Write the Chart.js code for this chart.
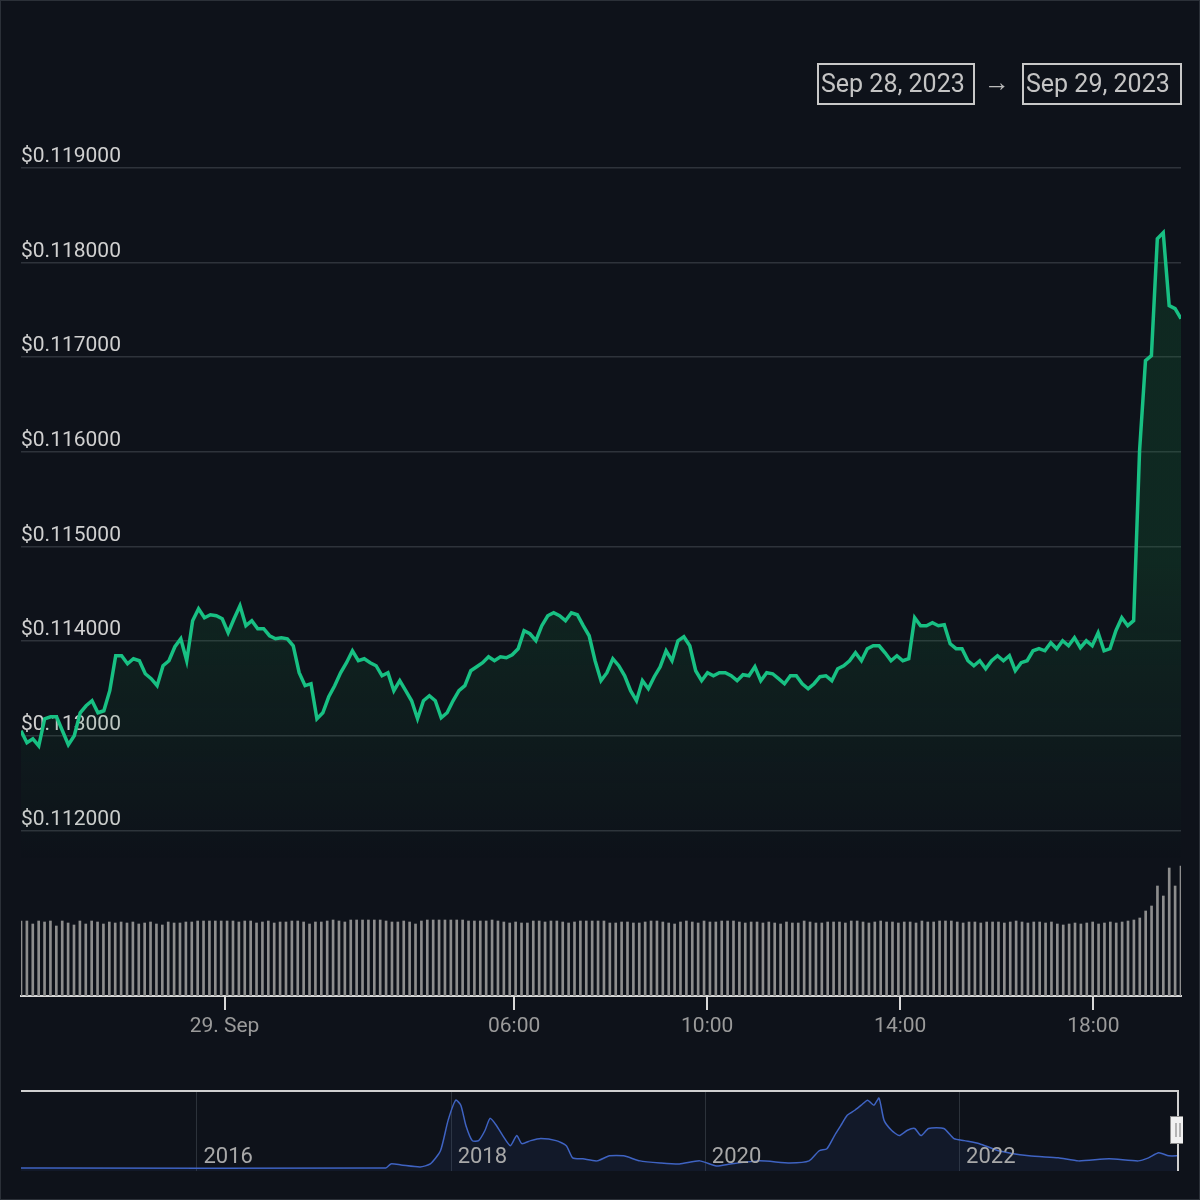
<!DOCTYPE html>
<html><head><meta charset="utf-8">
<script src="https://cdn.jsdelivr.net/npm/chart.js@4"></script>
<style>
html,body{margin:0;padding:0;background:#0e121a;}
#wrap{position:relative;width:1198px;height:1198px;border:1px solid #2b3038;background:#0e121a;font-family:Roboto,sans-serif;}
#main{position:absolute;left:0;top:0;}
#nav{position:absolute;left:20px;top:1088px;}
.box{position:absolute;top:62px;height:38px;border:2px solid #c8c8c8;color:#c4c4c4;font-size:25px;line-height:38px;padding:0 2px;box-sizing:content-box;}
#arrow{position:absolute;left:983px;top:66px;color:#bbb;font-size:26px;}
</style></head>
<body><div id="wrap">
<canvas id="main" width="1198" height="1198"></canvas>
<canvas id="nav" width="1162" height="86"></canvas>
<div class="box" style="left:816px;width:150px;">Sep 28, 2023</div>
<div id="arrow">→</div>
<div class="box" style="left:1021px;width:152px;">Sep 29, 2023</div>
</div>
<script>
// Price in thousandths of a dollar, Sep 28 ~19:47 to Sep 29 ~19:49 (regular steps)
const priceStartMin = -253, priceEndMin = 1189;
const prices = [113.053,112.926,112.968,112.894,113.180,113.201,113.201,113.053,112.905,113.000,113.243,113.317,113.370,113.243,113.264,113.476,113.846,113.846,113.761,113.814,113.793,113.655,113.603,113.529,113.740,113.793,113.941,114.025,113.793,114.216,114.342,114.247,114.279,114.268,114.237,114.089,114.237,114.374,114.163,114.216,114.131,114.131,114.057,114.025,114.036,114.025,113.951,113.666,113.529,113.550,113.180,113.243,113.412,113.529,113.666,113.772,113.898,113.793,113.814,113.772,113.740,113.634,113.666,113.476,113.582,113.476,113.370,113.180,113.370,113.423,113.370,113.190,113.243,113.370,113.476,113.529,113.687,113.729,113.772,113.835,113.793,113.835,113.824,113.856,113.920,114.110,114.078,114.004,114.163,114.268,114.300,114.268,114.216,114.300,114.279,114.163,114.057,113.793,113.582,113.666,113.814,113.740,113.634,113.476,113.370,113.582,113.497,113.624,113.729,113.898,113.793,114.004,114.046,113.951,113.687,113.582,113.666,113.634,113.666,113.666,113.634,113.582,113.645,113.634,113.729,113.582,113.666,113.655,113.603,113.550,113.634,113.634,113.550,113.497,113.550,113.624,113.634,113.582,113.708,113.740,113.793,113.877,113.793,113.920,113.951,113.951,113.877,113.793,113.846,113.793,113.814,114.247,114.163,114.163,114.194,114.163,114.173,113.972,113.920,113.920,113.793,113.740,113.793,113.708,113.793,113.846,113.793,113.846,113.687,113.772,113.793,113.898,113.920,113.898,113.983,113.920,114.004,113.951,114.036,113.930,114.004,113.951,114.089,113.898,113.920,114.110,114.247,114.163,114.216,116.012,116.964,117.017,118.253,118.317,117.545,117.513,117.407];
const volumes = [75,75,72,75,74,75,70,75,73,71,75,72,75,74,72,74,73,74,73,74,72,73,74,72,71,74,73,73,74,74,75,75,75,75,75,75,75,74,75,75,73,74,75,73,74,74,75,75,74,72,74,74,75,76,75,74,76,76,76,76,76,76,75,74,74,75,74,72,75,76,76,76,76,76,76,76,75,75,75,75,76,75,74,73,74,73,73,75,75,74,75,75,74,73,74,75,75,75,75,75,73,73,74,74,73,73,74,75,75,74,73,72,74,75,74,73,75,74,74,75,75,75,74,73,74,74,73,74,73,72,74,73,73,75,74,73,73,74,74,74,73,75,75,74,73,74,75,74,74,73,74,74,73,75,74,74,75,75,75,74,73,74,74,73,74,74,74,73,74,75,74,73,74,74,73,74,72,71,72,73,72,73,74,72,73,74,73,74,75,76,78,85,90,110,100,128,110,130];
const xTickMinutes = [0,360,600,840,1080];
const xTickLabels = {0:'29. Sep',360:'06:00',600:'10:00',840:'14:00',1080:'18:00'};
const yTicks = [112,113,114,115,116,117,118,119];
// navigator (all-time)
const navYears = [2014.62,2014.78,2017.49,2017.53,2017.61,2017.76,2017.84,2017.92,2017.98,2018.04,2018.08,2018.12,2018.17,2018.22,2018.27,2018.31,2018.36,2018.41,2018.47,2018.52,2018.56,2018.63,2018.71,2018.83,2018.91,2018.96,2019.04,2019.15,2019.25,2019.36,2019.49,2019.65,2019.80,2019.96,2020.09,2020.20,2020.43,2020.67,2020.82,2020.90,2020.96,2021.02,2021.07,2021.12,2021.18,2021.23,2021.28,2021.33,2021.37,2021.41,2021.47,2021.53,2021.59,2021.65,2021.70,2021.76,2021.88,2021.96,2022.04,2022.16,2022.31,2022.55,2022.78,2022.94,2023.18,2023.41,2023.49,2023.57,2023.65,2023.73];
const navValues = [3,3,3,7,6,4,7,20,50,70,65,45,30,30,40,52,45,35,25,35,27,30,32,30,25,13,12,10,15,15,10,8,7,10,5,7,10,8,10,20,22,35,45,55,60,65,70,65,72,50,40,35,40,42,35,42,42,32,30,27,20,15,13,10,12,10,13,18,15,15];
const navYearTicks = [2016,2018,2020,2022];

const pStep = (priceEndMin-priceStartMin)/(prices.length-1);
const vStep = (priceEndMin-priceStartMin)/(volumes.length-1);
const priceData = prices.map((v,i)=>({x:priceStartMin+i*pStep,y:v}));
const volData = volumes.map((v,i)=>({x:priceStartMin+i*vStep,y:v}));

const ctx = document.getElementById('main').getContext('2d');
const grad = ctx.createLinearGradient(0,560,0,860);
grad.addColorStop(0,'rgba(22,120,60,0.22)');
grad.addColorStop(1,'rgba(22,120,60,0.0)');
new Chart(ctx,{
  data:{datasets:[
    {type:'line',data:priceData,yAxisID:'y',borderColor:'#18c083',borderWidth:3.5,pointRadius:0,tension:0,fill:'start',backgroundColor:grad,order:1},
    {type:'bar',data:volData,yAxisID:'yv',backgroundColor:'#8d8d8d',borderWidth:0,barThickness:2,order:2}
  ]},
  options:{responsive:false,animation:false,
    layout:{padding:{left:20,right:18,top:140,bottom:0}},
    plugins:{legend:{display:false},tooltip:{enabled:false}},
    scales:{
      x:{type:'linear',min:priceStartMin,max:priceEndMin,offset:false,bounds:'ticks',
        afterBuildTicks:s=>{s.ticks=xTickMinutes.map(v=>({value:v}));},
        afterFit:s=>{s.height=203;},
        border:{color:'#d8d8d8',width:2},
        grid:{display:true,offset:false,drawOnChartArea:false,drawTicks:true,tickLength:14,color:'#d8d8d8',lineWidth:2},
        ticks:{color:'#9a9a9a',font:{family:'Roboto',size:21},padding:4,maxRotation:0,callback:v=>xTickLabels[v]||''}},
      y:{position:'left',min:110.25,max:119.285,
        afterBuildTicks:s=>{s.ticks=yTicks.map(v=>({value:v}));},
        afterFit:s=>{s.width=0;},
        border:{display:false},
        grid:{color:'#2e333b',lineWidth:1.5,drawTicks:false},
        ticks:{mirror:true,padding:0,labelOffset:-11,color:'#d0d0d0',font:{family:'Roboto',size:21},callback:v=>'$0.'+String(Math.round(v*1000)).padStart(6,'0')}},
      yv:{position:'right',display:false,min:0,max:855}
    }
  }
});

const nctx = document.getElementById('nav').getContext('2d');
const navPlugin = {id:'navdeco',
  beforeDatasetsDraw(c){const x=c.scales.x,a=c.chartArea,g=c.ctx;g.save();
    g.strokeStyle='#2c323a';g.lineWidth=1;
    navYearTicks.forEach(y=>{const px=Math.round(x.getPixelForValue(y))+0.5;g.beginPath();g.moveTo(px,a.top);g.lineTo(px,a.bottom);g.stroke();});
    g.restore();},
  afterDatasetsDraw(c){const x=c.scales.x,a=c.chartArea,g=c.ctx;g.save();
    g.strokeStyle='#d0d0d0';g.lineWidth=2;g.beginPath();g.moveTo(a.left,a.top+1);g.lineTo(a.right,a.top+1);g.stroke();
    g.fillStyle='#a8a8a8';g.font='22px Roboto';g.textBaseline='bottom';
    navYearTicks.forEach(y=>{g.fillText(String(y),x.getPixelForValue(y)+7,a.bottom-3);});
    g.strokeStyle='#d0d0d0';g.lineWidth=2;g.beginPath();g.moveTo(a.right-1,a.top);g.lineTo(a.right-1,a.bottom);g.stroke();
    g.fillStyle='#f0f0f0';g.strokeStyle='#888';g.lineWidth=1;g.fillRect(a.right-9,a.top+26,16,28);g.strokeRect(a.right-8.5,a.top+26.5,15,27);
    g.strokeStyle='#777';g.beginPath();g.moveTo(a.right-3,a.top+33);g.lineTo(a.right-3,a.top+47);g.moveTo(a.right+1,a.top+33);g.lineTo(a.right+1,a.top+47);g.stroke();
    g.restore();}
};
new Chart(nctx,{type:'line',
  data:{datasets:[{data:navYears.map((y,i)=>({x:y,y:navValues[i]})),borderColor:'#3f63c2',borderWidth:1.5,pointRadius:0,fill:'start',backgroundColor:'rgba(50,80,160,0.12)',tension:0.2}]},
  options:{responsive:false,animation:false,layout:{padding:{left:0,right:4,top:1,bottom:4}},
    plugins:{legend:{display:false},tooltip:{enabled:false}},
    scales:{x:{type:'linear',display:false,min:2014.62,max:2023.73},y:{display:false,min:0,max:80}}},
  plugins:[navPlugin]});
</script></body></html>
